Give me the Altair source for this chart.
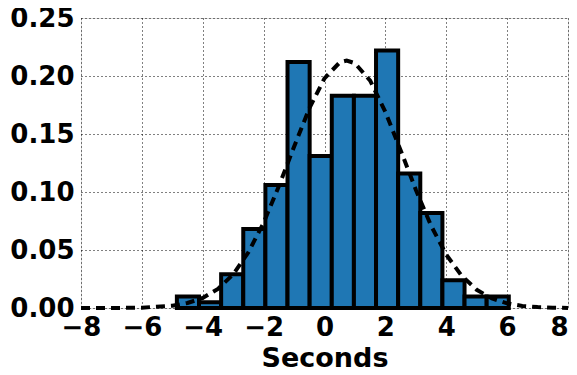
import altair as alt
import pandas as pd

# Histogram bins (edges) and densities
bin_edges = [-4.85, -4.123, -3.396, -2.669, -1.942, -1.215, -0.488, 0.239,
             0.966, 1.693, 2.42, 3.147, 3.874, 4.601, 5.328, 6.055]
densities = [0.010, 0.005, 0.029, 0.068, 0.106, 0.212, 0.131, 0.183,
             0.183, 0.222, 0.116, 0.082, 0.024, 0.010, 0.010]

# Dashed density curve
curve_x = [-8, -7, -6, -5, -4.5, -4, -3.5, -3, -2.5, -2, -1.5, -1, -0.5, 0,
           0.5, 0.73, 1, 1.5, 2, 2.5, 3, 3.5, 4, 4.5, 5, 5.5, 6, 6.5, 7, 7.5, 8]
curve_y = [0.0000, 0.0000, 0.0003, 0.0020, 0.0043, 0.0087, 0.0165, 0.029,
           0.048, 0.0735, 0.105, 0.139, 0.172, 0.198, 0.2117, 0.2133, 0.211,
           0.196, 0.169, 0.136, 0.102, 0.071, 0.046, 0.028, 0.0157, 0.0082,
           0.004, 0.0018, 0.0008, 0.0003, 0.0001]

x_ticks = [-8, -6, -4, -2, 0, 2, 4, 6, 8]
y_ticks = [0, 0.05, 0.10, 0.15, 0.20, 0.25]

bars = pd.DataFrame({
    "start": bin_edges[:-1],
    "end": bin_edges[1:],
    "density": densities,
})
curve = pd.DataFrame({"x": curve_x, "y": curve_y})

FONT = "DejaVu Sans"

xscale = alt.Scale(domain=[-8, 8], nice=False, zero=False)
yscale = alt.Scale(domain=[0, 0.25], nice=False)

xaxis = alt.Axis(values=x_ticks, format="d",
                 title="Seconds", labelFontSize=26, titleFontSize=27,
                 labelFont=FONT, titleFont=FONT, labelFontWeight="bold",
                 titleFontWeight="bold", labelColor="black", titleColor="black",
                 labelAlign=alt.condition("datum.value == 8",
                                          alt.value("right"),
                                          alt.value("center")),
                 ticks=False, labelPadding=6, titlePadding=5,
                 grid=True, gridColor="black", gridDash=[1, 3], gridWidth=1,
                 gridOpacity=1, domain=False, labelFlush=False)
yaxis = alt.Axis(values=y_ticks, format=".2f",
                 title=None, labelFontSize=26, labelFont=FONT,
                 labelFontWeight="bold", labelColor="black",
                 ticks=False, labelPadding=7,
                 grid=True, gridColor="black", gridDash=[1, 3], gridWidth=1,
                 gridOpacity=1, domain=False, labelFlush=False)

hist = alt.Chart(bars).mark_rect(
    color="#1f77b4", stroke="black", strokeWidth=4
).encode(
    x=alt.X("start:Q", scale=xscale, axis=xaxis),
    x2="end:Q",
    y=alt.Y("density:Q", scale=yscale, axis=yaxis),
    y2=alt.datum(0),
)

line = alt.Chart(curve).mark_line(
    color="black", strokeWidth=4, strokeDash=[9, 6]
).encode(
    x=alt.X("x:Q", scale=xscale),
    y=alt.Y("y:Q", scale=yscale),
)

chart = alt.layer(hist, line).properties(
    width=487, height=290,
    autosize=alt.AutoSizeParams(type="none"),
    padding={"left": 73, "top": 10, "right": 1, "bottom": 59},
).configure_view(stroke="black", strokeWidth=1.5).configure(background="white")

chart.save("out.html", embed_options={"renderer": "svg", "actions": False})
